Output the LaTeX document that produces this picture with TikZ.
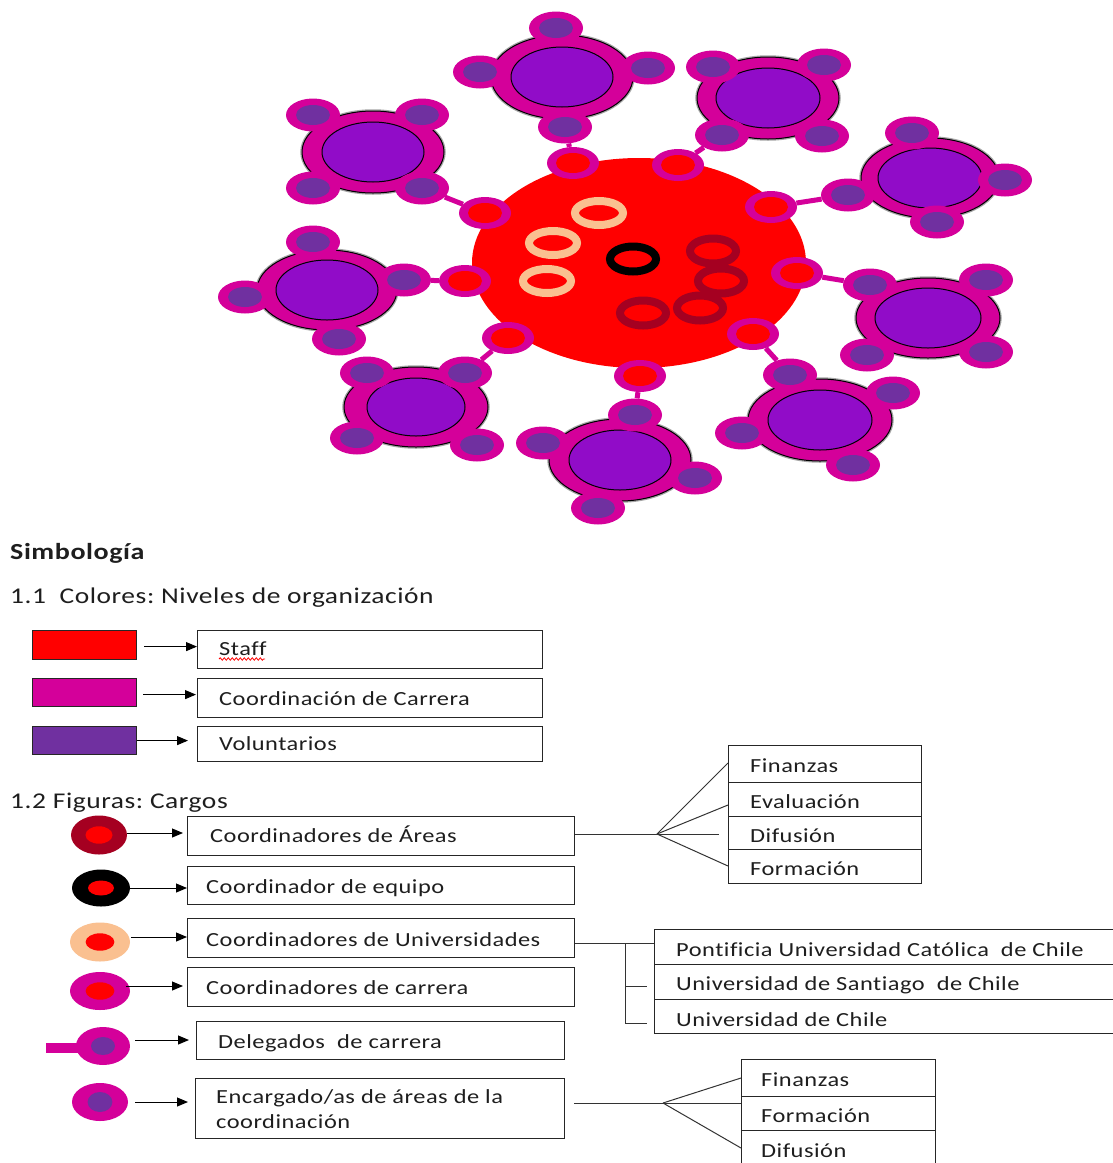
\documentclass[tikz,border=0pt]{standalone}
\usepackage{fontspec}
\newfontfamily\lf[FakeStretch=1.22,LetterSpace=2.5,Ligatures={NoCommon}]{Carlito}
\usetikzlibrary{shapes.geometric,arrows.meta,decorations.pathmorphing}
\definecolor{mag}{RGB}{212,0,154}
\definecolor{vpurple}{RGB}{112,48,160}
\definecolor{bpurple}{RGB}{145,12,200}
\definecolor{peach}{RGB}{250,192,144}
\definecolor{dred}{RGB}{165,0,33}
\definecolor{txtc}{RGB}{30,30,30}
\frenchspacing
\tikzset{
 sat/.style={ellipse, fill=mag, minimum width=54pt, minimum height=33pt, inner sep=0pt,
   path picture={\fill[vpurple] (path picture bounding box.center) ellipse [x radius=17pt, y radius=10pt];}},
 sdot/.style={ellipse, fill=mag, minimum width=52pt, minimum height=32pt, inner sep=0pt,
   path picture={\fill[red] (path picture bounding box.center) ellipse [x radius=17pt, y radius=10pt];}},
 bigout/.style={ellipse, fill=mag, draw=black, line width=1pt, inner sep=0pt,
   preaction={draw=black!35, line width=3.5pt}},
 bigin/.style={ellipse, fill=bpurple, draw=black, line width=1pt, inner sep=0pt},
 conn/.style={draw=mag, line width=5pt},
 ringst/.style={line width=8pt},
 lcirc/.style n args={6}{ellipse, fill=#1, minimum width=#2, minimum height=#3, inner sep=0pt,
   path picture={\fill[#4] (path picture bounding box.center) ellipse [x radius=#5, y radius=#6];}},
 box/.style={draw=black!85, line width=1.2pt, anchor=north west, inner sep=0pt},
 swatch/.style={draw=black!85, line width=1.2pt, anchor=north west, inner sep=0pt},
 arr/.style={-{Triangle[length=11pt,width=9pt]}, line width=1pt, black},
 thin/.style={line width=1pt, black!80},
 txt/.style={anchor=base west, inner sep=0pt, text=txtc, font=\lf\fontsize{20}{24}\selectfont},
 head/.style={anchor=base west, inner sep=0pt, text=txtc, font=\lf\fontsize{22.5}{26}\selectfont},
}
\newcommand{\bigcl}[7]{%
 \node[bigout, minimum width=#4, minimum height=#5] (#1o) at (#2,#3) {};
 \node[bigin, minimum width=#6, minimum height=#7] (#1i) at (#2,#3) {};}
\begin{document}
\begin{tikzpicture}[x=1pt,y=-1pt]
\useasboundingbox (0,0) rectangle (1113,1163);
\fill[white] (0,0) rectangle (1113,1163);
% central staff ellipse
\node[ellipse, fill=red, minimum width=334pt, minimum height=210pt, inner sep=0pt] (core) at (639,263) {};
% rings
\draw[peach, ringst] (599,213) ellipse [x radius=24pt, y radius=12pt];
\draw[peach, ringst] (553,243) ellipse [x radius=24pt, y radius=12pt];
\draw[peach, ringst] (547,281) ellipse [x radius=24pt, y radius=12pt];
\draw[black, ringst] (633,259) ellipse [x radius=23pt, y radius=12.5pt];
\draw[dred, ringst] (713,251) ellipse [x radius=23pt, y radius=12.5pt];
\draw[dred, ringst] (721,281) ellipse [x radius=23pt, y radius=12.5pt];
\draw[dred, ringst] (700,308) ellipse [x radius=23pt, y radius=12.5pt];
\draw[dred, ringst] (643,313) ellipse [x radius=23pt, y radius=12.5pt];
% clusters
\bigcl{ca}{373}{152}{142pt}{82pt}{102pt}{60pt}
\bigcl{cb}{562}{77}{142pt}{84pt}{102pt}{60pt}
\bigcl{cc}{768}{98}{142pt}{82pt}{104pt}{60pt}
\bigcl{cd}{930}{178}{138pt}{80pt}{104pt}{60pt}
\bigcl{ce}{928}{318}{144pt}{80pt}{106pt}{60pt}
\bigcl{cf}{820}{420}{144pt}{82pt}{104pt}{60pt}
\bigcl{cg}{620}{460}{142pt}{82pt}{102pt}{60pt}
\bigcl{ch}{416}{407}{144pt}{80pt}{98pt}{58pt}
\bigcl{ci}{327}{290}{140pt}{80pt}{102pt}{60pt}
% satellites
\node[sat] (ca1) at (313,115) {}; \node[sat] (ca2) at (422,115) {}; \node[sat] (ca3) at (313,188) {}; \node[sat] (ca4) at (422,188) {};
\node[sat] (cb1) at (556,28) {}; \node[sat] (cb2) at (480,72) {}; \node[sat] (cb3) at (648,68) {}; \node[sat] (cb4) at (565,127) {};
\node[sat] (cc1) at (713,67) {}; \node[sat] (cc2) at (824,65) {}; \node[sat] (cc3) at (722,135) {}; \node[sat] (cc4) at (822,136) {};
\node[sat] (cd1) at (912,133) {}; \node[sat] (cd2) at (1005,180) {}; \node[sat] (cd3) at (937,222) {}; \node[sat] (cd4) at (848,195) {};
\node[sat] (ce1) at (870,285) {}; \node[sat] (ce2) at (986,280) {}; \node[sat] (ce3) at (867,355) {}; \node[sat] (ce4) at (986,352) {};
\node[sat] (cf1) at (790,375) {}; \node[sat] (cf2) at (893,393) {}; \node[sat] (cf3) at (742,433) {}; \node[sat] (cf4) at (853,465) {};
\node[sat] (cg1) at (635,415) {}; \node[sat] (cg2) at (543,443) {}; \node[sat] (cg3) at (695,478) {}; \node[sat] (cg4) at (598,508) {};
\node[sat] (ch1) at (367,373) {}; \node[sat] (ch2) at (465,373) {}; \node[sat] (ch3) at (357,438) {}; \node[sat] (ch4) at (477,445) {};
\node[sat] (ci1) at (313,242) {}; \node[sat] (ci2) at (245,297) {}; \node[sat] (ci3) at (339,339) {}; \node[sat] (ci4) at (404,280) {};
% staff dots
\node[sdot] (d1) at (573,163) {};
\node[sdot] (d2) at (678,165) {};
\node[sdot] (d3) at (485,213) {};
\node[sdot] (d4) at (771,207) {};
\node[sdot] (d5) at (465,281) {};
\node[sdot] (d6) at (797,273) {};
\node[sdot] (d7) at (508,338) {};
\node[sdot] (d8) at (753,334) {};
\node[sdot] (d9) at (640,376) {};
% connectors
\draw[conn] (ca4) -- (d3);
\draw[conn] (cb4) -- (d1);
\draw[conn] (cc3) -- (d2);
\draw[conn] (cd4) -- (d4);
\draw[conn] (ce1) -- (d6);
\draw[conn] (cf1) -- (d8);
\draw[conn] (cg1) -- (d9);
\draw[conn] (ch2) -- (d7);
\draw[conn] (ci4) -- (d5);

% ---------- Legend ----------
\node[head, font=\lf\bfseries\fontsize{23}{26}\selectfont] (simb) at (10,559) {Simbología};
\node[head] (h11) at (10,603) {1.1\ \ Colores: Niveles de organización};
\node[swatch, fill=red, minimum width=104pt, minimum height=29pt] (sw1) at (32,630) {};
\node[swatch, fill=mag, minimum width=104pt, minimum height=28pt] (sw2) at (32,678) {};
\node[swatch, fill=vpurple, minimum width=104pt, minimum height=28pt] (sw3) at (32,726) {};
\node[box, minimum width=345pt, minimum height=38pt] (bs) at (197,630) {};
\node[box, minimum width=345pt, minimum height=39pt] (bc) at (197,678) {};
\node[box, minimum width=345pt, minimum height=35pt] (bv) at (197,726) {};
\draw[arr] ([xshift=7pt,yshift=-1.5pt]sw1.east) -- ([yshift=-1.5pt]sw1.east -| bs.west);
\draw[arr] ([xshift=6pt,yshift=-2pt]sw2.east) -- ([xshift=-1pt,yshift=-2pt]sw2.east -| bc.west);
\draw[arr] ([yshift=0pt]sw3.east) -- ([xshift=-9pt]sw3.east -| bv.west);
\node[txt] (tst) at (219,655) {Staff};
\draw[red, line width=0.8pt, decorate, decoration={snake, amplitude=1.2pt, segment length=4pt}] (tst.base west) ++(0,4) -- ++(46,0);
\node[txt] (tco) at (219,705) {Coordinación de Carrera};
\node[txt] (tvo) at (219,750) {Voluntarios};

\node[head] (h12) at (10,808) {1.2 Figuras: Cargos};
% figure symbols
\node[lcirc={dred}{56pt}{39pt}{red}{13.5pt}{8.7pt}] (f1) at (99,835) {};
\node[lcirc={black}{58pt}{37pt}{red}{13pt}{7.5pt}] (f2) at (101,888) {};
\node[lcirc={peach}{60pt}{39pt}{red}{14.4pt}{8.7pt}] (f3) at (100,942) {};
\node[lcirc={mag}{60pt}{38pt}{red}{14.4pt}{8.7pt}] (f4) at (100,991) {};
\fill[mag] (46,1043) rectangle (80,1053);
\node[lcirc={mag}{54pt}{38pt}{vpurple}{12pt}{9pt}] (f5) at (103,1046) {};
\node[lcirc={mag}{56pt}{38pt}{vpurple}{12.4pt}{10pt}] (f6) at (100,1102) {};
% boxes
\node[box, minimum width=387pt, minimum height=39pt] (b1) at (187,816) {};
\node[box, minimum width=387pt, minimum height=38pt] (b2) at (187,866) {};
\node[box, minimum width=387pt, minimum height=39pt] (b3) at (187,918) {};
\node[box, minimum width=387pt, minimum height=39pt] (b4) at (187,967) {};
\node[box, minimum width=368pt, minimum height=38pt] (b5) at (196,1021) {};
\node[box, minimum width=369pt, minimum height=60pt] (b6) at (195,1078) {};
% arrows
\draw[arr] ([yshift=2pt]f1.east) -- ([xshift=-4pt,yshift=2pt]f1.east -| b1.west);
\draw[arr] (f2.east) -- (f2.east -| b2.west);
\draw[arr] ([xshift=1pt,yshift=5pt]f3.east) -- ([yshift=5pt]f3.east -| b3.west);
\draw[arr] ([xshift=-4pt,yshift=5pt]f4.east) -- ([xshift=-4pt,yshift=5pt]f4.east -| b4.west);
\draw[arr] ([xshift=5pt,yshift=6pt]f5.east) -- ([xshift=-7pt,yshift=6pt]f5.east -| b5.west);
\draw[arr] ([xshift=7pt]f6.east) -- ([xshift=-7pt]f6.east -| b6.west);
% texts
\node[txt] (t1) at (210,842) {Coordinadores de Áreas};
\node[txt] (t2) at (206,893) {Coordinador de equipo};
\node[txt] (t3) at (206,946) {Coordinadores de Universidades};
\node[txt] (t4) at (206,994) {Coordinadores de carrera};
\node[txt] (t5) at (218,1048) {Delegados\ \ de carrera};
\node[txt] (t6) at (216,1103) {Encargado/as de áreas de la};
\node[txt] (t6b) at (216,1128) {coordinación};
% areas
\node[box, minimum width=193pt, minimum height=37pt] (a1) at (728,745) {};
\node[box, minimum width=193pt, minimum height=34pt] (a2) at (728,782) {};
\node[box, minimum width=193pt, minimum height=33pt] (a3) at (728,816) {};
\node[box, minimum width=193pt, minimum height=34pt] (a4) at (728,849) {};
\node[txt] (ta1) at (750,772) {Finanzas};
\node[txt] (ta2) at (750,808) {Evaluación};
\node[txt] (ta3) at (750,842) {Difusión};
\node[txt] (ta4) at (750,875) {Formación};
\coordinate (fa) at (657,834);
\draw[thin] (b1.east |- fa) -- (fa);
\draw[thin] (fa) -- (a1.west |- 0,763);
\draw[thin] (fa) -- (a2.west |- 0,805);
\draw[thin] (fa) -- ([xshift=-9pt]a3.west |- fa);
\draw[thin] (fa) -- (a4.west |- 0,866);
% universities
\node[box, minimum width=470pt, minimum height=35pt] (u1) at (654,929) {};
\node[box, minimum width=470pt, minimum height=35pt] (u2) at (654,964) {};
\node[box, minimum width=470pt, minimum height=34pt] (u3) at (654,999) {};
\node[txt] (tu1) at (676,956) {Pontificia Universidad Católica\ \ de Chile};
\node[txt] (tu2) at (676,990) {Universidad de Santiago\ \ de Chile};
\node[txt] (tu3) at (676,1026) {Universidad de Chile};
\coordinate (ub) at (625,943);
\draw[thin] (b3.east |- ub) -- (u1.west |- ub);
\draw[thin] (ub) |- ([xshift=-7pt]u3.west |- 0,1023);
\draw[thin] (ub |- 0,986) -- ([xshift=-7pt]u2.west |- 0,986);
% lower areas
\node[box, minimum width=194pt, minimum height=37pt] (l1) at (741,1059) {};
\node[box, minimum width=194pt, minimum height=34pt] (l2) at (741,1096) {};
\node[box, minimum width=194pt, minimum height=45pt] (l3) at (741,1130) {};
\node[txt] (tl1) at (761,1086) {Finanzas};
\node[txt] (tl2) at (761,1122) {Formación};
\node[txt] (tl3) at (761,1157) {Difusión};
\coordinate (fl) at (663,1103);
\draw[thin] ([xshift=9pt]b6.east |- fl) -- (fl);
\draw[thin] (fl) -- (l1.west |- 0,1078);
\draw[thin] (fl) -- (l2.west |- fl);
\draw[thin] (fl) -- (l3.west |- 0,1148);
\end{tikzpicture}
\end{document}
